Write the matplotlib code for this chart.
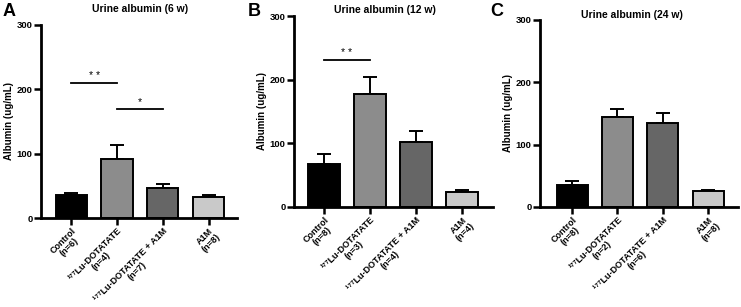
import numpy as np
import matplotlib.pyplot as plt

plt.rcParams['font.family'] = ['Liberation Sans', 'DejaVu Sans']

groups = ['Control', '¹⁷⁷Lu-DOTATATE', '¹⁷⁷Lu-DOTATATE + A1M', 'A1M']
colors = ['#000000', '#8c8c8c', '#666666', '#c9c9c9']

titles = ['Urine albumin (6 w)', 'Urine albumin (12 w)', 'Urine albumin (24 w)']
letters = ['A', 'B', 'C']

mean_6w = [35, 91, 47, 33]
sem_6w = [4, 23, 6, 3]
n_6w = [6, 4, 7, 8]

mean_12w = [67, 177, 102, 24]
sem_12w = [16, 27, 18, 2]
n_12w = [8, 3, 4, 4]

mean_24w = [35, 144, 134, 25]
sem_24w = [6, 14, 17, 3]
n_24w = [8, 2, 6, 8]

means = [mean_6w, mean_12w, mean_24w]
sems = [sem_6w, sem_12w, sem_24w]
ns = [n_6w, n_12w, n_24w]

# significance bars: (x0, x1, y, label)
sig = [[(0, 1, 210, '* *'), (1, 2, 170, '*')],
       [(0, 1, 231, '* *')],
       []]

W, H = 741, 307
# axes boxes in pixels: left, right, top, bottom ; x limits
boxes = [(41, 237, 25, 218, -0.66, 3.62),
         (294, 493, 16, 207, -0.65, 3.67),
         (540, 738, 20, 207, -0.71, 3.66)]
title_pos = [(140, 9), (385, 10), (632, 15)]
letter_pos = [(3, 11), (248, 11), (490, 11)]

fs = 6.5          # x label font size
tick_len = 5
lab_gap = tick_len + 1.0
c45 = np.cos(np.pi / 4)

fig = plt.figure(figsize=(W / 100, H / 100), dpi=100)
renderer = fig.canvas.get_renderer()


def text_size_pt(s):
    t = fig.text(0, 0, s, fontsize=fs, fontweight='bold')
    bb = t.get_window_extent(renderer)
    t.remove()
    return bb.width * 72 / fig.dpi, bb.height * 72 / fig.dpi


for k in range(3):
    l, r, t, b, x0, x1 = boxes[k]
    ax = fig.add_axes([l / W, 1 - b / H, (r - l) / W, (b - t) / H])
    x = np.arange(4)
    ax.errorbar(x, means[k], yerr=[np.zeros(4), sems[k]], fmt='none',
                ecolor='black', elinewidth=1.4, capsize=5, capthick=1.4, zorder=1)
    ax.bar(x, means[k], width=0.68, color=colors, edgecolor='black',
           linewidth=1.4, zorder=2)
    ax.set_xlim(x0, x1)
    ax.set_ylim(0, 300)
    ax.set_yticks([0, 100, 200, 300])
    ax.set_xticks(x)
    ax.set_xticklabels([])
    for lab in ax.get_yticklabels():
        lab.set_fontsize(6.8)
        lab.set_fontweight('bold')
    ax.tick_params(axis='y', width=1.8, length=5, pad=1)
    ax.tick_params(axis='x', width=1.8, length=tick_len, pad=0)
    for s in ['top', 'right']:
        ax.spines[s].set_visible(False)
    for s in ['left', 'bottom']:
        ax.spines[s].set_linewidth(2)
    ax.set_ylabel('Albumin (ug/mL)', fontsize=7, fontweight='bold', labelpad=2)

    # rotated two-line category labels
    tr = ax.get_xaxis_transform()
    for i, (g, n) in enumerate(zip(groups, ns[k])):
        ax.annotate(g, xy=(i, 0), xycoords=tr, xytext=(0, -lab_gap),
                    textcoords='offset points', rotation=45,
                    rotation_mode='anchor', ha='right', va='top',
                    fontsize=fs, fontweight='bold', annotation_clip=False)
        w, h = text_size_pt(g)
        u, v = -w / 2, -h * 1.0
        dx = (u - v) * c45
        dy = (u + v) * c45
        ax.annotate(f'(n={n})', xy=(i, 0), xycoords=tr,
                    xytext=(dx, -lab_gap + dy), textcoords='offset points',
                    rotation=45, rotation_mode='anchor', ha='center', va='top',
                    fontsize=fs, fontweight='bold', annotation_clip=False)

    for (a, c, y, txt) in sig[k]:
        ax.plot([a, c], [y, y], color='black', lw=1.3)
        ax.text((a + c) / 2, y + 3, txt, ha='center', va='bottom', fontsize=7.5)
    fig.text(title_pos[k][0] / W, 1 - title_pos[k][1] / H, titles[k],
             ha='center', va='center', fontsize=7.5, fontweight='bold')
    fig.text(letter_pos[k][0] / W, 1 - letter_pos[k][1] / H, letters[k],
             ha='left', va='center', fontsize=13, fontweight='bold')

fig.savefig('out.png', dpi=100)
